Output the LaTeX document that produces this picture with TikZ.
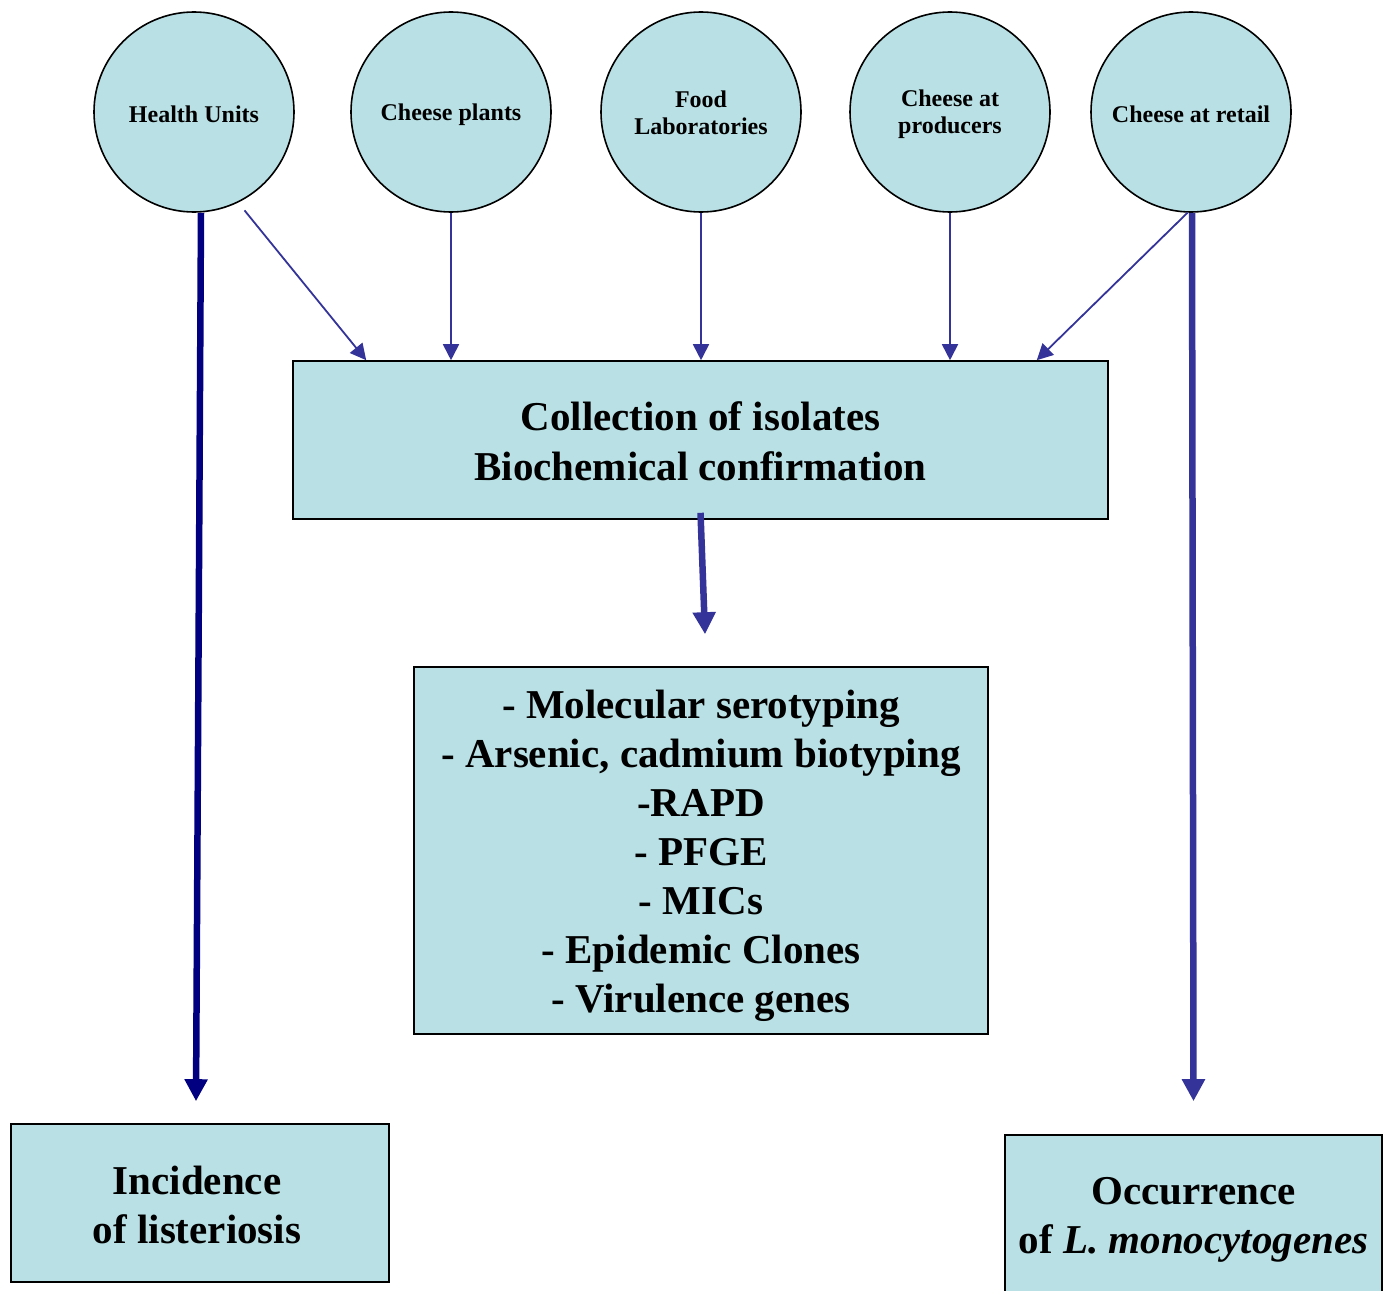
\documentclass[tikz,border=0pt]{standalone}
\usepackage{fontspec}
\setmainfont{Liberation Serif}
\usetikzlibrary{arrows.meta}
\definecolor{boxfill}{RGB}{185,224,228}
\definecolor{arrblue}{RGB}{51,51,153}
\definecolor{navyblue}{RGB}{0,0,128}
\begin{document}
\begin{tikzpicture}[x=1pt,y=-1pt,
  src/.style={circle,draw=black,line width=1.6pt,fill=boxfill,minimum size=200pt,inner sep=0pt},
  srct/.style={align=center,inner sep=0pt,font=\fontsize{24}{27.5}\selectfont\bfseries},
  box/.style={rectangle,draw=black,line width=1.6pt,fill=boxfill,inner sep=0pt},
  txt/.style={align=center,inner sep=0pt},
  thin/.style={draw=arrblue,line width=1.8pt,-{Triangle[length=16pt,width=16pt]}},
  thick/.style={line width=6.5pt,-{Triangle[length=22pt,width=22pt]}}]
\useasboundingbox (0,0) rectangle (1383,1290);
\node[src] (hu) at (194,112) {};
\node[srct] (hut) at ([yshift=-2pt]hu.center) {Health Units};
\node[src] (cp) at (451,112) {};
\node[srct] (cpt) at ([yshift=-3pt]cp.center) {Cheese plants};
\node[src] (fl) at (701,112) {};
\node[srct] (flt) at ([yshift=-1pt]fl.center) {Food\\Laboratories};
\node[src] (cpr) at (950,112) {};
\node[srct] (cprt) at ([yshift=-2pt]cpr.center) {Cheese at\\producers};
\node[src] (cr) at (1191,112) {};
\node[srct] (crt) at ([yshift=-2pt]cr.center) {Cheese at retail};
\node[box,minimum width=815pt,minimum height=158pt] (b1) at (700.5,440) {};
\node[txt,font=\fontsize{41}{50}\selectfont\bfseries] (b1t) at ([yshift=-1pt]b1.center) {Collection of isolates\\Biochemical confirmation};
\node[box,minimum width=574pt,minimum height=367pt] (b2) at (701,850.5) {};
\node[txt,font=\fontsize{41}{49}\selectfont\bfseries] (b2t) at ([yshift=-5pt]b2.center) {- Molecular serotyping\\- Arsenic, cadmium biotyping\\-RAPD\\- PFGE\\- MICs\\- Epidemic Clones\\- Virulence genes};
\node[box,minimum width=378pt,minimum height=158pt] (inc) at (200,1203) {};
\node[txt,font=\fontsize{41}{49}\selectfont\bfseries] (inct) at ([xshift=-3pt,yshift=-2pt]inc.center) {Incidence\\of listeriosis};
\node[box,minimum width=377pt,minimum height=158pt] (occ) at (1193.5,1214) {};
\node[txt,font=\fontsize{41}{49}\selectfont\bfseries] (occt) at ([yshift=-6pt]occ.center) {Occurrence\\of \textit{L. monocytogenes}};
\draw[thin,shorten <=10pt] (hu.-64) -- ([xshift=74pt]b1.north west);
\draw[thin] (cp.south) -- (cp.south |- b1.north);
\draw[thin] (fl.south) -- (fl.south |- b1.north);
\draw[thin] (cpr.south) -- (cpr.south |- b1.north);
\draw[thin] (cr.-92) -- ([xshift=-72pt]b1.north east);
\draw[thick,navyblue] ([xshift=7pt]hu.south) -- ([xshift=-4pt,yshift=22pt]inc.north);
\draw[thick,arrblue] ([xshift=1pt]cr.south) -- ([yshift=33pt]occ.north);
\draw[thick,arrblue] ([yshift=7pt]b1.south) -- ([xshift=4pt,yshift=32pt]b2.north);
\end{tikzpicture}
\end{document}
